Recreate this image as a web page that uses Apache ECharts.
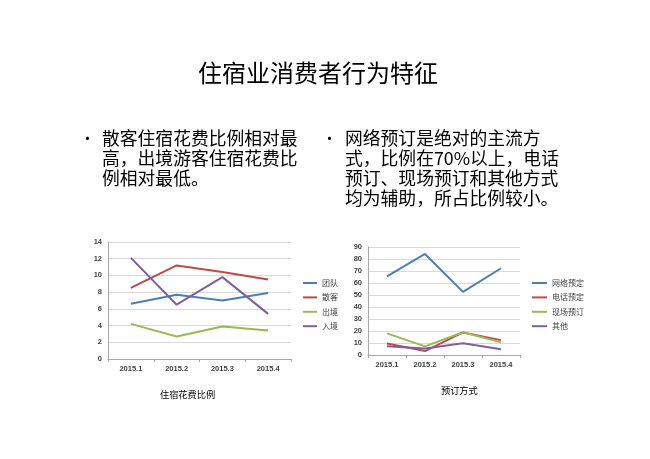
<!DOCTYPE html>
<html lang="zh">
<head>
<meta charset="UTF-8">
<title>住宿业消费者行为特征</title>
<script src="https://cdn.jsdelivr.net/npm/echarts@6/dist/echarts.min.js"></script>
<style>
  html, body { margin: 0; padding: 0; background: #fff; }
  #main { width: 650px; height: 459px; }
</style>
</head>
<body>
<div id="main"></div>
<script type="text/javascript">
// 数据
var quarters = ['2015.1', '2015.2', '2015.3', '2015.4'];

var costNames = ['团队', '散客', '出境', '入境'];
var tuandui = [6.6, 7.7, 7.0, 7.9];
var sanke = [8.5, 11.2, 10.4, 9.5];
var chujing = [4.2, 2.7, 3.9, 3.4];
var rujing = [12.1, 6.5, 9.8, 5.4];

var bookNames = ['网络预定', '电话预定', '现场预订', '其他'];
var wangluo = [65.5, 84.2, 52.6, 72.3];
var dianhua = [9.6, 3.3, 18.8, 12.4];
var xianchang = [18, 7.2, 19, 10.5];
var qita = [7.2, 5.5, 9.7, 4.7];

var colors = ['#4a7ebb', '#be4b48', '#98b954', '#7d60a0'];
var cjk = '"Noto Sans CJK SC", sans-serif';

var myChart = echarts.init(document.getElementById('main'));

function xAxisOf(idx) {
    return {
        type: 'category', gridIndex: idx, data: quarters, boundaryGap: true,
        axisLine: { lineStyle: { color: '#a6a6a6', width: 1 } },
        axisTick: { show: true, length: 3, lineStyle: { color: '#a6a6a6' } },
        axisLabel: { color: '#404040', fontSize: 7.5, fontFamily: 'Liberation Sans', fontWeight: 'bold', margin: 6 }
    };
}
function yAxisOf(idx, max, step) {
    return {
        type: 'value', gridIndex: idx, min: 0, max: max, interval: step,
        axisLine: { show: true, lineStyle: { color: '#a6a6a6' } },
        axisTick: { show: false },
        splitLine: { lineStyle: { color: '#d9d9d9', width: 1 } },
        axisLabel: { color: '#404040', fontSize: 7.5, fontFamily: 'Liberation Sans', fontWeight: 'bold', margin: 6 }
    };
}
function lineOf(name, data, i, idx) {
    return {
        name: name, type: 'line', data: data, xAxisIndex: idx, yAxisIndex: idx,
        symbol: 'none', lineStyle: { width: 2, color: colors[i] }, itemStyle: { color: colors[i] }
    };
}

var legendStyle = { fontSize: 8, lineHeight: 10, color: '#404040', fontFamily: cjk };

myChart.setOption({
    backgroundColor: '#fff',
    animation: false,
    grid: [
        { left: 108, right: 359, top: 242, bottom: 100 },
        { left: 368, right: 130, top: 247, bottom: 104 }
    ],
    xAxis: [xAxisOf(0), xAxisOf(1)],
    yAxis: [yAxisOf(0, 14, 2), yAxisOf(1, 90, 10)],
    legend: [
        {
            data: costNames, orient: 'vertical', left: 303, top: 278, padding: 0,
            icon: 'rect', itemWidth: 14, itemHeight: 2, itemGap: 4.4, textStyle: legendStyle
        },
        {
            data: bookNames, orient: 'vertical', left: 532, top: 278, padding: 0,
            icon: 'rect', itemWidth: 15, itemHeight: 2, itemGap: 4.4, textStyle: legendStyle
        }
    ],
    series: [
        lineOf(costNames[0], tuandui, 0, 0),
        lineOf(costNames[1], sanke, 1, 0),
        lineOf(costNames[2], chujing, 2, 0),
        lineOf(costNames[3], rujing, 3, 0),
        lineOf(bookNames[0], wangluo, 0, 1),
        lineOf(bookNames[1], dianhua, 1, 1),
        lineOf(bookNames[2], xianchang, 2, 1),
        lineOf(bookNames[3], qita, 3, 1)
    ],
    graphic: [
        { type: 'text', left: 198, top: 61,
          style: { text: '住宿业消费者行为特征', font: '24px ' + cjk, fill: '#000' } },
        { type: 'text', left: 80, top: 131,
          style: { text: '•', font: '15px ' + cjk, fill: '#000' } },
        { type: 'text', left: 102, top: 128,
          style: { text: '散客住宿花费比例相对最\n高，出境游客住宿花费比\n例相对最低。',
                   font: '17.8px ' + cjk, lineHeight: 20, fill: '#000' } },
        { type: 'text', left: 322, top: 131,
          style: { text: '•', font: '15px ' + cjk, fill: '#000' } },
        { type: 'text', left: 345, top: 128,
          style: { text: '网络预订是绝对的主流方\n式，比例在70%以上，电话\n预订、现场预订和其他方式\n均为辅助，所占比例较小。',
                   font: '17.8px ' + cjk, lineHeight: 20, fill: '#000' } },
        { type: 'text', left: 160, top: 390,
          style: { text: '住宿花费比例', font: '9.2px ' + cjk, fill: '#000' } },
        { type: 'text', left: 441, top: 386,
          style: { text: '预订方式', font: '9.2px ' + cjk, fill: '#000' } }
    ]
});
</script>
</body>
</html>
